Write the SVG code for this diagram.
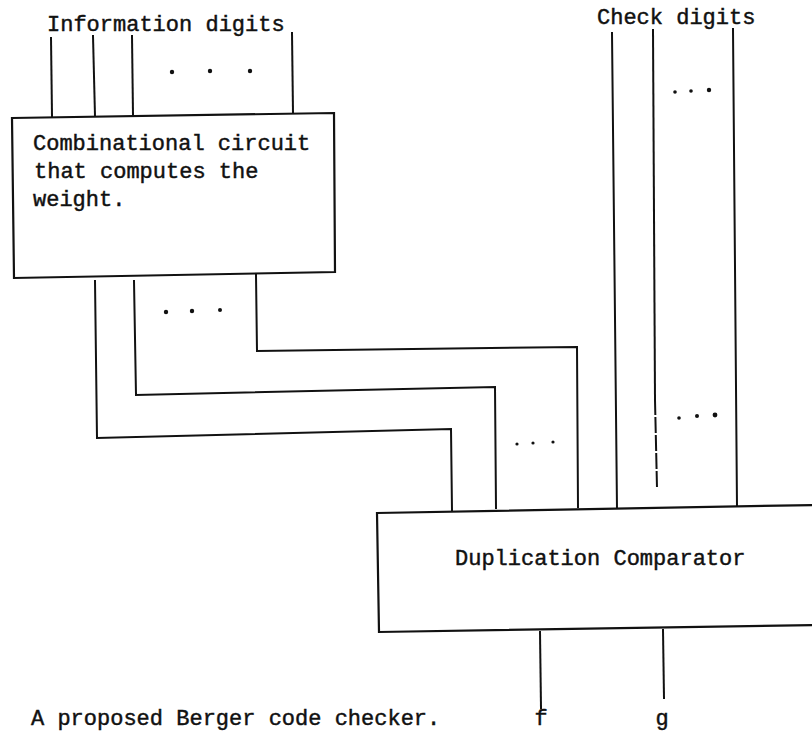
<svg xmlns="http://www.w3.org/2000/svg" width="812" height="740" viewBox="0 0 812 740">
<style>
.t{font-family:"Liberation Mono","Courier New",monospace;font-size:22px;fill:#111;stroke:#111;stroke-width:0.45}
.w{fill:none;stroke:#111;stroke-width:2;stroke-linecap:square;stroke-linejoin:miter}
.b{fill:#fff;stroke:#111;stroke-width:2.2}
.d{fill:#111}
</style>
<rect width="812" height="740" fill="#fff"/>
<g id="connectors">
  <line class="w" x1="51" y1="38" x2="52" y2="116"/>
  <line class="w" x1="93" y1="36" x2="95" y2="116"/>
  <line class="w" x1="132" y1="36" x2="133" y2="115"/>
  <line class="w" x1="292" y1="33" x2="293" y2="113"/>
  <line class="w" x1="612" y1="33" x2="617" y2="508"/>
  <line class="w" x1="653" y1="30" x2="655" y2="400"/>
  <line class="w" x1="655" y1="400" x2="657" y2="488" stroke-dasharray="14 4" stroke-width="1.4"/>
  <line class="w" x1="733" y1="29" x2="737" y2="506"/>
  <polyline class="w" points="95,281 97,438 451,429 452,511"/>
  <polyline class="w" points="134,281 136,395 495,387 496,508"/>
  <polyline class="w" points="256,275 257,351 577,347 578,507"/>
  <line class="w" x1="540" y1="632" x2="541" y2="708"/>
  <line class="w" x1="663" y1="630" x2="664" y2="698"/>
</g>
<g id="dots">
  <circle class="d" cx="172" cy="72" r="2.2"/>
  <circle class="d" cx="210" cy="71" r="2.2"/>
  <circle class="d" cx="250" cy="71" r="2.2"/>
  <circle class="d" cx="675" cy="92" r="1.8"/>
  <circle class="d" cx="691" cy="91" r="1.8"/>
  <circle class="d" cx="709" cy="90" r="2.2"/>
  <circle class="d" cx="166" cy="312" r="2.2"/>
  <circle class="d" cx="192" cy="311" r="2.2"/>
  <circle class="d" cx="220" cy="310" r="2"/>
  <circle class="d" cx="517" cy="444" r="1.6"/>
  <circle class="d" cx="533" cy="443" r="1.6"/>
  <circle class="d" cx="553" cy="442" r="1.6"/>
  <circle class="d" cx="679" cy="418" r="1.8"/>
  <circle class="d" cx="697" cy="416" r="2"/>
  <circle class="d" cx="715" cy="415" r="2.4"/>
</g>
<g id="weight-circuit">
  <polygon class="b" points="12,118 334,113 335,272 14,278"/>
  <text class="t" x="33" y="150">Combinational circuit</text>
  <text class="t" x="34" y="178">that computes the</text>
  <text class="t" x="33" y="206">weight.</text>
</g>
<g id="comparator">
  <polygon class="b" points="377,513 814,505 814,625 379,632"/>
  <text class="t" x="455" y="565">Duplication Comparator</text>
</g>
<g id="labels">
  <text class="t" x="47" y="31">Information digits</text>
  <text class="t" x="597" y="24">Check digits</text>
  <text class="t" x="541" y="725" text-anchor="middle">f</text>
  <text class="t" x="662" y="725" text-anchor="middle">g</text>
  <text class="t" x="31" y="725">A proposed Berger code checker.</text>
</g>
</svg>
